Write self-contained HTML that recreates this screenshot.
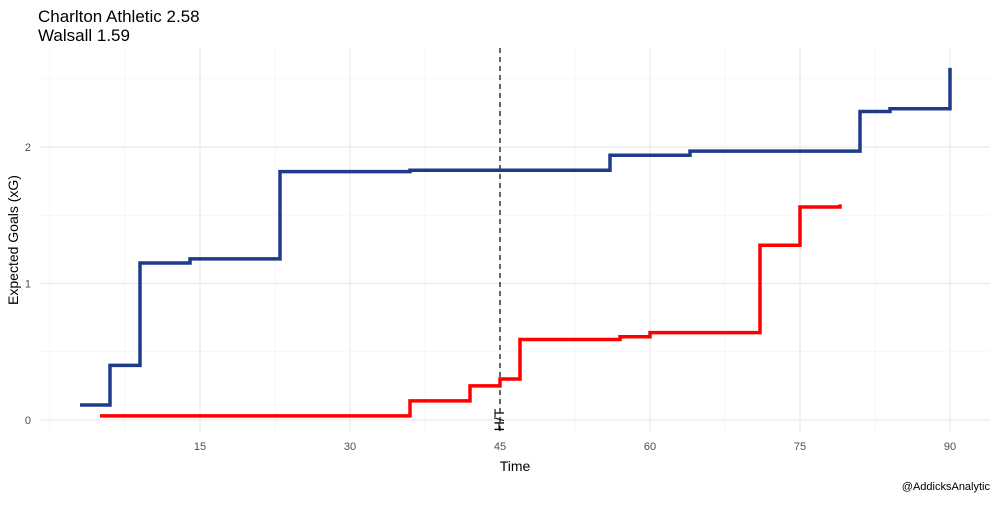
<!DOCTYPE html>
<html><head><meta charset="utf-8"><style>
body{margin:0;background:#fff;font-family:"Liberation Sans",Arial,sans-serif}
svg text{font-family:"Liberation Sans",Arial,sans-serif}
</style></head><body>
<svg id="chart" width="1000" height="500" viewBox="0 0 1000 500">
<rect width="1000" height="500" fill="#fff"/>
<text x="38" y="22" font-size="17" fill="#000">Charlton Athletic 2.58</text>
<text x="38" y="41" font-size="17" fill="#000">Walsall 1.59</text>
<g id="grid"></g><g id="series"></g><g id="axes"></g>
<text x="515" y="471" font-size="14" text-anchor="middle">Time</text>
<text transform="translate(18,240) rotate(-90)" font-size="14" text-anchor="middle">Expected Goals (xG)</text>
<text x="990" y="490" font-size="11" text-anchor="end">@AddicksAnalytic</text>
</svg>
<script>
const xTicks=[15,30,45,60,75,90];
const yTicks=[0,1,2];
const blueTimes=[3,6,9,14,23,36,56,64,81,84,90,90];
const blueXg=[0.11,0.40,1.15,1.18,1.82,1.83,1.94,1.97,2.26,2.28,2.58,2.58];
const redTimes=[5,36,42,45,47,57,60,71,75,79,79];
const redXg=[0.03,0.14,0.25,0.30,0.59,0.61,0.64,1.28,1.56,1.58,1.58];
const halfTime=45;
const NS="http://www.w3.org/2000/svg";
const X=t=>50+t*10, Y=v=>420-v*136.5;
const L=40,R=990,T=48,B=432;
function mk(tag,attrs,parent){const e=document.createElementNS(NS,tag);for(const k in attrs)e.setAttribute(k,attrs[k]);document.getElementById(parent).appendChild(e);return e;}
for(let t=0;t<=97.5;t+=7.5){const x=X(t);if(x<L||x>R)continue;const major=xTicks.includes(t);
 const l=mk('line',{x1:x,x2:x,y1:T,y2:B,stroke:major?'#e5e5e5':'#f2f2f2','stroke-width':major?1:0.6},'grid');
 
 }
for(let v=0;v<=2.5;v+=0.5){const y=Y(v);const major=yTicks.includes(v);
 const l=mk('line',{x1:L,x2:R,y1:y,y2:y,stroke:major?'#e5e5e5':'#f2f2f2','stroke-width':major?1:0.6},'grid');
 
 }
xTicks.forEach(t=>{const e=mk('text',{x:X(t),y:450,'font-size':11,fill:'#4d4d4d','text-anchor':'middle'},'axes');e.textContent=t;
 
 });
yTicks.forEach(v=>{const e=mk('text',{x:31,y:Y(v)+4,'font-size':11,fill:'#4d4d4d','text-anchor':'end'},'axes');e.textContent=v;
 
 });
function stepPath(ts,vs){let d='M'+X(ts[0])+','+Y(vs[0]);for(let i=1;i<ts.length;i++){d+=' H'+X(ts[i])+' V'+Y(vs[i]);}return d;}
const hl=mk('line',{x1:X(halfTime),x2:X(halfTime),y1:T,y2:B,stroke:'#000','stroke-width':1.2,'stroke-dasharray':'5,4'},'series');


const bp=mk('path',{d:stepPath(blueTimes,blueXg),fill:'none',stroke:'#1f3a8a','stroke-width':3.5},'series');


const rp=mk('path',{d:stepPath(redTimes,redXg),fill:'none',stroke:'#ff0000','stroke-width':3.5},'series');


const ht=mk('text',{transform:'translate('+(X(halfTime)-1)+',420) rotate(-90)','font-size':14,'text-anchor':'middle',dy:'0.35em'},'series');
ht.textContent='H/T';


</script>
</body></html>
